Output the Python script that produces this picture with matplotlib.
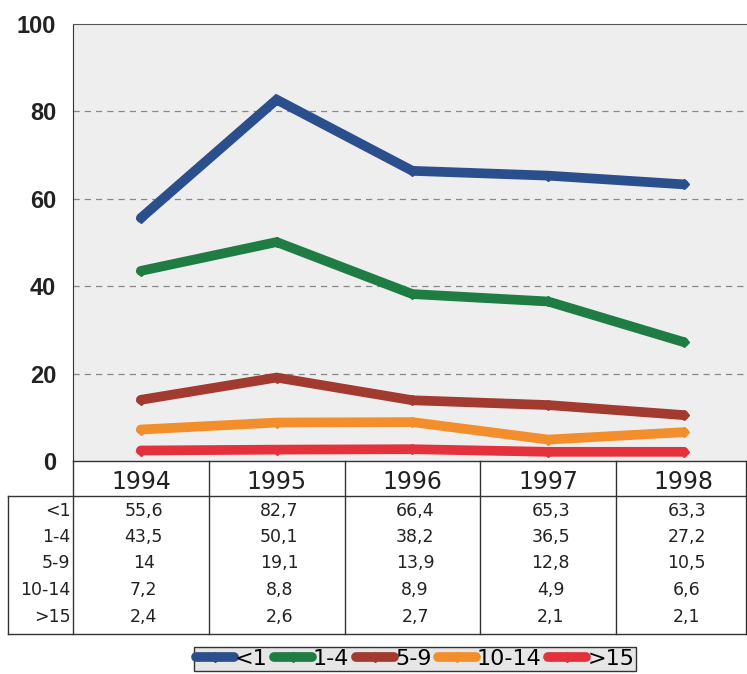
import numpy as np
import matplotlib.pyplot as plt
from matplotlib.transforms import blended_transform_factory

years = ['1994', '1995', '1996', '1997', '1998']
groups = ['<1', '1-4', '5-9', '10-14', '>15']
v_lt1 = [55.6, 82.7, 66.4, 65.3, 63.3]
v_1_4 = [43.5, 50.1, 38.2, 36.5, 27.2]
v_5_9 = [14, 19.1, 13.9, 12.8, 10.5]
v_10_14 = [7.2, 8.8, 8.9, 4.9, 6.6]
v_gt15 = [2.4, 2.6, 2.7, 2.1, 2.1]
series = [v_lt1, v_1_4, v_5_9, v_10_14, v_gt15]
colors = ['#2b4f8c', '#1f7d44', '#a23a30', '#f28f2c', '#e3323c']


def fmt(v):
    # comma decimal, as in the original table
    s = ('%g' % v)
    return s.replace('.', ',')


W, H = 747, 674
fig = plt.figure(figsize=(W / 100, H / 100), dpi=100)
left, right, top, bottom = 73, 747, 24, 461
ax = fig.add_axes([left / W, 1 - bottom / H, (right - left) / W, (bottom - top) / H])
ax.set_facecolor('#eeeeee')

x = np.arange(len(years))
for vals, c, g in zip(series, colors, groups):
    ax.plot(x, vals, color=c, lw=7, solid_capstyle='round',
            solid_joinstyle='miter', marker='D', ms=5, mfc=c, mec=c, label=g)

step = 135.75
ax.set_xlim(-0.5, -0.5 + (right - left) / step)
ax.set_ylim(0, 100)
ax.set_yticks([0, 20, 40, 60, 80, 100])
ax.set_xticks([])
ax.tick_params(axis='y', length=0, pad=12)
for t in ax.get_yticklabels():
    t.set_fontfamily('Liberation Sans')
    t.set_fontweight('bold')
    t.set_fontsize(17)
    t.set_color('#222222')
for yv in [20, 40, 60, 80]:
    ax.axhline(yv, color='#888888', lw=0.9, ls=(0, (5, 4)), zorder=0.5)
for s in ['right', 'bottom']:
    ax.spines[s].set_visible(False)
ax.spines['left'].set_color('#333333')
ax.spines['top'].set_color('#555555')

# data table under the plot
tr = blended_transform_factory(ax.transData, ax.transAxes)
ph = bottom - top


def ya(py):
    return (bottom - py) / ph


x_left = -0.5 + (8 - left) / step
x_right = -0.5 + (right - 1 - left) / step
kw = dict(transform=tr, clip_on=False, color='#333333', lw=1.0)
ax.plot([-0.5, -0.5], [ya(461), ya(634)], **kw)
for i in range(len(years) - 1):
    ax.plot([i + 0.5, i + 0.5], [ya(461), ya(634)], **kw)
ax.plot([x_right, x_right], [ya(461), ya(634)], **kw)
ax.plot([x_left, x_right], [ya(496), ya(496)], **kw)
ax.plot([x_left, x_right], [ya(634), ya(634)], **kw)
ax.plot([x_left, x_left], [ya(496), ya(634)], **kw)
ax.plot([-0.5, x_right], [ya(461), ya(461)], **kw)

for i, yr in enumerate(years):
    ax.text(i, ya(482), yr, transform=tr, ha='center', va='center',
            fontsize=17, color='#222222')
row_y = [511, 537, 563, 590, 617]
for g, vals, py in zip(groups, series, row_y):
    ax.text(-0.52, ya(py), g, transform=tr, ha='right', va='center',
            fontsize=12.5, color='#222222')
    for i, v in enumerate(vals):
        ax.text(i + 0.02, ya(py), fmt(v), transform=tr, ha='center',
                va='center', fontsize=12.5, color='#222222')

leg = fig.legend(loc='center', bbox_to_anchor=(415 / W, 1 - 659 / H), ncol=5,
                 fontsize=16, handlelength=1.7, handletextpad=0.05,
                 columnspacing=0.3, borderpad=0.1, fancybox=False,
                 framealpha=1, facecolor='#e6e6e6', edgecolor='#333333')

fig.savefig('out.png', dpi=100)
